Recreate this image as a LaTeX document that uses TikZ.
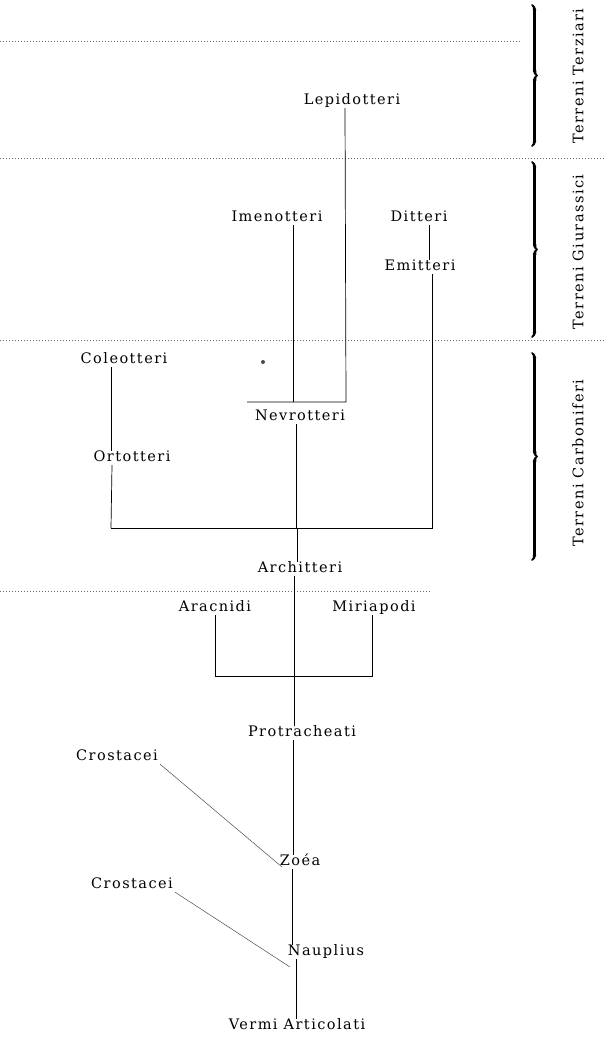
\documentclass[tikz,border=0pt]{standalone}
\usepackage{fontspec}
\setmainfont{DejaVu Serif}[LetterSpace=10]
\usepackage{tikz}
\usetikzlibrary{decorations.pathreplacing, calligraphy}
\tikzstyle{taxon} = [inner sep=2pt, text height=1.6ex, text depth=0.3ex, font=\fontsize{14.5}{16}\selectfont]
\tikzstyle{branch} = [draw, line width=0.7pt]
\tikzstyle{fossil} = [draw, black!70, line width=0.5pt]
\tikzstyle{horizon} = [draw, black!60, line width=0.7pt, dash pattern=on 1pt off 2pt]
\tikzstyle{epoch} = [decorate, decoration={calligraphic brace, amplitude=5pt}, line width=3.5pt]

\begin{document}
\begin{tikzpicture}[x=1pt, y=-1pt]
\useasboundingbox (0,0) rectangle (605,1038);

%% strata
\draw[horizon] (0,41) -- (520,41);
\draw[horizon] (0,158) -- (605,158);
\draw[horizon] (0,340) -- (605,340);
\draw[horizon] (0,591) -- (430,591);

\draw[epoch] (532,5) -- (532,146);
\draw[epoch] (532,162) -- (532,337);
\draw[epoch] (532,353) -- (532,560);
\node[taxon, rotate=90] (terziari) at (580,76) {Terreni Terziari};
\node[taxon, rotate=90] (giurassici) at (580,252) {Terreni Giurassici};
\node[taxon, rotate=90] (carboniferi) at (580,463) {Terreni Carboniferi};

%% insects
\node[taxon] (lepidotteri) at (352,101) {Lepidotteri};
\node[taxon] (imenotteri) at (277,218) {Imenotteri};
\node[taxon] (ditteri) at (419,218) {Ditteri};
\node[taxon] (emitteri) at (420,267) {Emitteri};
\node[taxon] (coleotteri) at (124,360) {Coleotteri};
\node[taxon] (ortotteri) at (132,458) {Ortotteri};
\node[taxon] (nevrotteri) at (300,417) {Nevrotteri};
\node[taxon] (architteri) at (300,569) {Architteri};
\fill[black!70] (263,362) circle (2);

\coordinate (nevL) at (247,402);
\coordinate (nevR) at (346,402);
\coordinate (archL) at (111,528);
\coordinate (archR) at (432,528);

\draw[branch] ([xshift=-7]lepidotteri.south) -- (nevR) -- (nevL);
\draw[branch] ([xshift=16]imenotteri.south) -- ([xshift=16]imenotteri.south |- nevL);
\draw[branch] ([xshift=10]ditteri.south) -- ([xshift=10]ditteri.south |- emitteri.north);
\draw[branch] ([xshift=12]emitteri.south) -- (archR) -- (archL);
\draw[branch] ([xshift=-13]coleotteri.south) -- ([xshift=-13]coleotteri.south |- ortotteri.north);
\draw[branch] ([xshift=-20]ortotteri.south) -- (archL);
\draw[branch] ([xshift=-4]nevrotteri.south) -- ([xshift=-4]nevrotteri.south |- archL);
\draw[branch] ([xshift=-3]architteri.north |- archL) -- ([xshift=-3]architteri.north);

%% arthropods
\node[taxon] (aracnidi) at (215,608) {Aracnidi};
\node[taxon] (miriapodi) at (374,608) {Miriapodi};
\node[taxon] (protracheati) at (302,733) {Protracheati};

\coordinate (trachL) at (215,676);
\coordinate (trachR) at (372,676);

\draw[branch] ([xshift=-6]architteri.south) -- ([xshift=-6]architteri.south |- trachL);
\draw[branch] (aracnidi.south) -- (trachL) -- (trachR) -- ([xshift=-2]miriapodi.south);
\draw[branch] ([xshift=-8]protracheati.north |- trachL) -- ([xshift=-8]protracheati.north);

%% larvae
\node[taxon] (crostaceiA) at (117,757) {Crostacei};
\node[taxon] (zoea) at (300,862) {Zoéa};
\node[taxon] (crostaceiB) at (132,885) {Crostacei};
\node[taxon] (nauplius) at (326,952) {Nauplius};
\node[taxon] (vermi) at (297,1026) {Vermi Articolati};

\coordinate (zoeaend) at (282,867);
\coordinate (nauplend) at (290,967);

\draw[branch] ([xshift=-9]protracheati.south) -- ([xshift=-9]protracheati.south |- zoea.north);
\draw[branch] ([xshift=-8]zoea.south) -- ([xshift=-8]zoea.south |- nauplius.north);
\draw[branch] ([xshift=-30]nauplius.south) -- ([xshift=-30]nauplius.south |- vermi.north);
\draw[fossil] (crostaceiA.south east) -- (zoeaend);
\draw[fossil] (crostaceiB.south east) -- (nauplend);
\end{tikzpicture}
\end{document}
